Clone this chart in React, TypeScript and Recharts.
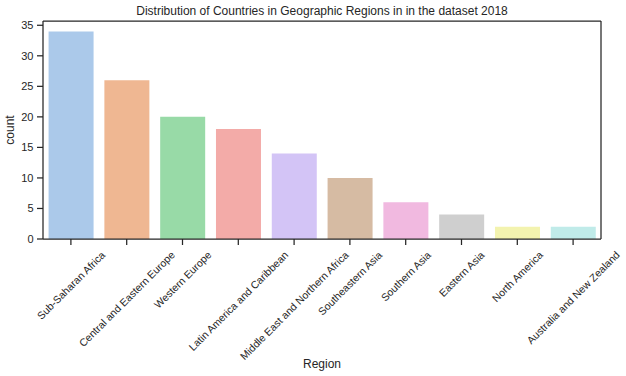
import React from "react";
import { BarChart, Bar, XAxis, YAxis, Cell, CartesianGrid } from "recharts";

const regions = [
  "Sub-Saharan Africa",
  "Central and Eastern Europe",
  "Western Europe",
  "Latin America and Caribbean",
  "Middle East and Northern Africa",
  "Southeastern Asia",
  "Southern Asia",
  "Eastern Asia",
  "North America",
  "Australia and New Zealand",
];
const counts = [34, 26, 20, 18, 14, 10, 6, 4, 2, 2];
const colors = [
  "#abc9ea",
  "#efb792",
  "#98daa7",
  "#f3aba8",
  "#d3c4f6",
  "#d6bba3",
  "#f1b9e0",
  "#cfcfcf",
  "#f3f3af",
  "#c0ebe9",
];
const yTicks = [0, 5, 10, 15, 20, 25, 30, 35];

const data = regions.map((r, i) => ({ region: r, count: counts[i] }));

const FONT = '"Liberation Sans", Arial, Helvetica, sans-serif';
const INK = "#262626";

let ctx: CanvasRenderingContext2D | null = null;
function measure(text: string, size: number) {
  if (!ctx) {
    const c = document.createElement("canvas");
    ctx = c.getContext("2d");
  }
  if (!ctx) return text.length * size * 0.5;
  ctx.font = `${size}px "Liberation Sans", Arial, sans-serif`;
  return ctx.measureText(text).width;
}

const XTick = (props: any) => {
  const { x, y, payload } = props;
  const fs = 10.5;
  const L = measure(String(payload.value), fs);
  const h = fs * 1.0;
  const top = y + 2;
  const cy = top + ((L + h) * Math.SQRT1_2) / 2;
  return (
    <text
      x={x}
      y={cy}
      transform={`rotate(-45, ${x}, ${cy})`}
      textAnchor="middle"
      dominantBaseline="central"
      fontSize={fs}
      fontFamily={FONT}
      fill={INK}
    >
      {payload.value}
    </text>
  );
};

const YLabel = (props: any) => {
  const vb = props.viewBox || { x: 0, y: 0, width: 0, height: 0 };
  const cx = 10;
  const cy = vb.y + vb.height / 2;
  return (
    <text
      x={cx}
      y={cy}
      transform={`rotate(-90, ${cx}, ${cy})`}
      textAnchor="middle"
      dominantBaseline="central"
      fontSize={12}
      fontFamily={FONT}
      fill={INK}
    >
      count
    </text>
  );
};

export default function App() {
  return (
    <div
      style={{
        position: "absolute",
        left: 0,
        top: 0,
        width: 626,
        height: 376,
        background: "#ffffff",
      }}
    >
      <div
        style={{
          position: "absolute",
          left: 43,
          width: 558,
          top: 4,
          lineHeight: "14px",
          textAlign: "center",
          fontSize: 12,
          fontFamily: FONT,
          color: INK,
          zIndex: 2,
        }}
      >
        Distribution of Countries in Geographic Regions in in the dataset 2018
      </div>
      <BarChart
        width={626}
        height={376}
        data={data}
        margin={{ top: 21, right: 25, bottom: 0, left: 0 }}
        barCategoryGap="10%"
      >
        <CartesianGrid
          stroke={INK}
          strokeWidth={1.25}
          horizontalCoordinatesGenerator={(p: any) => [p.offset.top]}
          verticalCoordinatesGenerator={(p: any) => [p.offset.left + p.offset.width]}
        />
        <XAxis
          dataKey="region"
          height={137}
          interval={0}
          tickSize={6}
          tickMargin={2}
          tick={<XTick />}
          axisLine={{ stroke: INK, strokeWidth: 1.25 }}
          tickLine={{ stroke: INK, strokeWidth: 1.25 }}
          label={{
            value: "Region",
            position: "insideBottom",
            offset: 8,
            fontSize: 12,
            fontFamily: FONT,
            fill: INK,
          }}
        />
        <YAxis
          width={43}
          domain={[0, 35.7]}
          ticks={yTicks}
          type="number"
          allowDataOverflow
          tickSize={6}
          tickMargin={3.5}
          tick={{ fontSize: 11, fontFamily: FONT, fill: INK }}
          axisLine={{ stroke: INK, strokeWidth: 1.25 }}
          tickLine={{ stroke: INK, strokeWidth: 1.25 }}
          label={<YLabel />}
        />
        <Bar dataKey="count" isAnimationActive={false}>
          {data.map((d, i) => (
            <Cell key={d.region} fill={colors[i]} />
          ))}
        </Bar>
      </BarChart>
    </div>
  );
}
